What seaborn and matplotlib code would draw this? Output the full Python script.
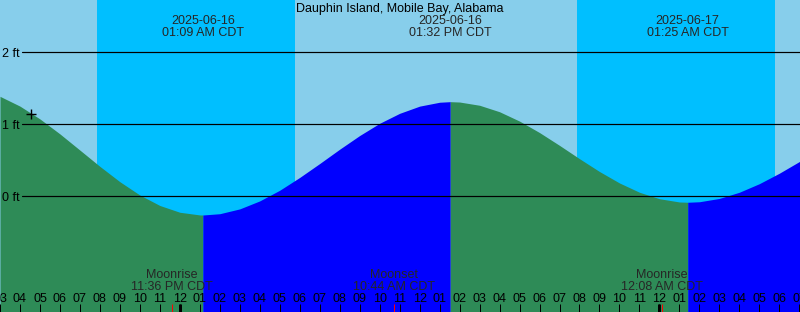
import numpy as np
import pandas as pd
import matplotlib
matplotlib.use("Agg")
import matplotlib.pyplot as plt
import matplotlib.transforms as mtransforms
import seaborn as sns

# ---------------- data (hours relative to 2025-06-16 00:00 CDT) ----------------
station = "Dauphin Island, Mobile Bay, Alabama"

hours = list(range(-9, 33))
heights = [1.388, 1.252, 1.074, 0.866, 0.641, 0.415, 0.202, 0.017, -0.128, -0.222, -0.259,
           -0.242, -0.175, -0.064, 0.084, 0.262, 0.455, 0.654, 0.844, 1.014, 1.152, 1.252, 1.306,
           1.309, 1.264, 1.174, 1.044, 0.885, 0.707, 0.522, 0.344, 0.185, 0.056, -0.034, -0.079,
           -0.076, -0.030, 0.056, 0.175, 0.320, 0.482, 0.651]

extreme_hours = [1.15, 13.533, 25.417]
extreme_heights = [-0.26, 1.314, -0.083]
extreme_dates = ["2025-06-16", "2025-06-16", "2025-06-17"]
extreme_labels = ["01:09 AM CDT", "01:32 PM CDT", "01:25 AM CDT"]

night_start = [-4.13, 19.87]
night_end = [5.785, 29.785]

moon_hours = [-0.4, 10.733, 24.133]
moon_events = ["Moonrise", "Moonset", "Moonrise"]
moon_labels = ["11:36 PM CDT", "10:44 AM CDT", "12:08 AM CDT"]

midnight_hours = [0, 24]
tick_hours = list(range(-9, 32))
level_ft = [0, 1, 2]
level_labels = ["0 ft", "1 ft", "2 ft"]

now_hour = [-7.465]
now_height = [1.14]

# ---------------- style ----------------
sns.set_style("white")
plt.rcParams["font.family"] = ["Liberation Sans", "DejaVu Sans"]
FS = 9.0
PX = 0.72  # points per pixel at 100 dpi

C_SKY = "#87CEEB"
C_NIGHT = "#00BFFF"
C_FALL = "#2E8B57"
C_RISE = "#0000FF"

fig = plt.figure(figsize=(8.0, 3.12), dpi=100)
ax = fig.add_axes([0, 0, 1, 1])
ax.set_facecolor(C_SKY)
for s in ax.spines.values():
    s.set_visible(False)

XMIN, XMAX = -8.965, 31.035
YMIN, YMAX = -1.607, 2.726
ax.set_xlim(XMIN, XMAX)
ax.set_ylim(YMIN, YMAX)

# night bands
for a, b in zip(night_start, night_end):
    ax.axvspan(a, b, color=C_NIGHT, lw=0, zorder=0.5)

# tide curve
df = pd.DataFrame({"hour": hours + extreme_hours, "height": heights + extreme_heights})
df = df.sort_values("hour").reset_index(drop=True)

bounds = [-1e9] + extreme_hours + [1e9]
first_is_low = extreme_heights[0] < extreme_heights[1]
for i in range(len(bounds) - 1):
    seg = df[(df["hour"] >= bounds[i]) & (df["hour"] <= bounds[i + 1])]
    falling = (i % 2 == 0) == first_is_low
    col = C_FALL if falling else C_RISE
    ax.fill_between(seg["hour"], seg["height"], YMIN - 1, color=col, lw=0, zorder=2,
                    antialiased=False)

# level lines
lt = mtransforms.blended_transform_factory(ax.transAxes, ax.transData)
for lv, lab in zip(level_ft, level_labels):
    ax.axhline(lv, xmin=22 / 800, xmax=1, color="black", lw=1.2 * PX, zorder=3)
    ax.text(20 / 800, lv - 4.4 / 72, lab, transform=lt,
            ha="right", va="baseline", fontsize=FS, color="black", zorder=4)

# current point
sns.scatterplot(x=now_hour, y=now_height, marker="+", s=45, color="black", linewidth=1.0, ax=ax, zorder=5)

bt = mtransforms.blended_transform_factory(ax.transData, ax.transAxes)

# title
ax.text(0.5, 1 - 12.1 / 312, station, transform=ax.transAxes, ha="center", va="baseline",
        fontsize=FS, color="black", zorder=4)

# extreme labels
for h, d, l in zip(extreme_hours, extreme_dates, extreme_labels):
    ax.text(h, 1 - 24.3 / 312, d, transform=bt, ha="center", va="baseline", fontsize=FS, zorder=4)
    ax.text(h, 1 - 36.0 / 312, l, transform=bt, ha="center", va="baseline", fontsize=FS, zorder=4)

# moon labels
for h, e, l in zip(moon_hours, moon_events, moon_labels):
    ax.text(h, 33.7 / 312, e, transform=bt, ha="center", va="baseline", fontsize=FS, zorder=4)
    ax.text(h, 22.0 / 312, l, transform=bt, ha="center", va="baseline", fontsize=FS, zorder=4)

# hour ticks
base = pd.Timestamp("2025-06-16 00:00")
tick_labels = [(base + pd.Timedelta(hours=h)).strftime("%I") for h in tick_hours]
ax.set_xticks(tick_hours, tick_labels)
ax.set_yticks([])
ax.tick_params(axis="x", direction="in", length=8 * PX, width=1 * PX, color="black",
               pad=-10.3 * PX, labelsize=FS, labelcolor="black", bottom=True)
for lbl in ax.get_xticklabels():
    lbl.set_verticalalignment("baseline")
ax.set_axisbelow(False)
ax.set_xlabel("")
ax.set_ylabel("")

# thick midnight ticks and red moon ticks
ax.vlines(midnight_hours, 0, 8 / 312, transform=bt, colors="black", lw=3 * PX, zorder=6)
ax.vlines(moon_hours, 0, 8 / 312, transform=bt, colors="red", lw=1 * PX, zorder=6)

fig.savefig("out.png", dpi=100)
